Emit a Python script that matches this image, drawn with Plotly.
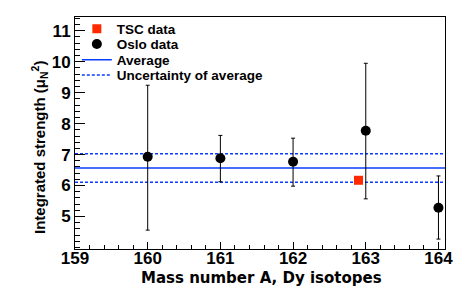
import plotly.graph_objects as go

# ---- data ----
A_oslo = [160, 161, 162, 163, 164]
S_oslo = [6.93, 6.88, 6.77, 7.77, 5.28]
S_oslo_err_plus = [2.31, 0.74, 0.76, 2.18, 1.03]
S_oslo_err_minus = [2.37, 0.76, 0.79, 2.20, 1.01]

A_tsc = [162.9]
S_tsc = [6.17]

avg_value = 6.565
avg_upper = 7.03
avg_lower = 6.11

x_range = [159, 164.09]
y_range = [3.95, 11.445]
x_ticks = [159, 160, 161, 162, 163, 164]
y_ticks = [5, 6, 7, 8, 9, 10, 11]

x_title = "Mass number A, Dy isotopes"
y_title = "Integrated strength (μ<sub>N</sub><sup>2</sup>)"

FONT = "Liberation Sans, Arial, Helvetica, sans-serif"
BLUE = "#0a3cff"
RED = "#ff2a00"

fig = go.Figure()

fig.add_trace(go.Scatter(
    x=x_range, y=[avg_value, avg_value], mode="lines",
    line=dict(color=BLUE, width=1.5), name="Average", legend="legend3"))
fig.add_trace(go.Scatter(
    x=x_range, y=[avg_upper, avg_upper], mode="lines",
    line=dict(color=BLUE, width=1.5, dash="3px,2px"),
    name="Uncertainty of average", legend="legend4"))
fig.add_trace(go.Scatter(
    x=x_range, y=[avg_lower, avg_lower], mode="lines",
    line=dict(color=BLUE, width=1.5, dash="3px,2px"),
    name="Uncertainty of average", showlegend=False, legend="legend4"))

fig.add_trace(go.Scatter(
    x=A_oslo, y=S_oslo, mode="markers",
    marker=dict(symbol="circle", size=10, color="black"),
    error_y=dict(type="data", array=S_oslo_err_plus, arrayminus=S_oslo_err_minus,
                 color="black", thickness=1, width=2),
    name="Oslo data", legend="legend2"))

fig.add_trace(go.Scatter(
    x=A_tsc, y=S_tsc, mode="markers",
    marker=dict(symbol="square", size=9, color=RED),
    name="TSC data", legend="legend"))

def leg(ypx):
    return dict(x=0.005, xanchor="left", y=(249 - ypx) / 232, yanchor="middle",
                bgcolor="rgba(0,0,0,0)", borderwidth=0, visible=True,
                font=dict(family=FONT, size=13.5, color="black", weight="bold"))

fig.update_layout(
    width=469, height=290,
    margin=dict(l=75, r=24, t=17, b=41, autoexpand=False),
    paper_bgcolor="white", plot_bgcolor="white",
    font=dict(family=FONT, color="black"),
    showlegend=True,
    legend=leg(29), legend2=leg(44.3), legend3=leg(60), legend4=leg(75.3),
    xaxis=dict(
        range=x_range, tickmode="array", tickvals=x_ticks, automargin=False,
        ticks="inside", ticklen=7, tickwidth=1, tickcolor="black",
        ticklabelstandoff=-6,
        minor=dict(dtick=0.2, ticks="inside", ticklen=4, tickwidth=1, tickcolor="black"),
        showline=True, linecolor="black", linewidth=1, mirror=True,
        showgrid=False, zeroline=False,
        tickfont=dict(family=FONT, size=17, weight="bold"),
    ),
    yaxis=dict(
        range=y_range, tickmode="array", tickvals=y_ticks, automargin=False,
        ticks="inside", ticklen=10, tickwidth=1, tickcolor="black",
        minor=dict(dtick=0.2, ticks="inside", ticklen=5, tickwidth=1, tickcolor="black"),
        showline=True, linecolor="black", linewidth=1, mirror=True,
        showgrid=False, zeroline=False,
        tickfont=dict(family=FONT, size=17, weight="bold"),
    ),
    annotations=[
        dict(text=x_title, xref="paper", yref="paper", x=0.505, y=(249 - 278) / 232,
             xanchor="center", yanchor="middle", showarrow=False,
             font=dict(family="DejaVu Sans, " + FONT, size=15, weight="bold", color="black")),
        dict(text=y_title, xref="paper", yref="paper", x=(39 - 75) / 370, y=(249 - 148) / 232,
             xanchor="center", yanchor="middle", showarrow=False, textangle=-90,
             font=dict(family=FONT, size=15, weight="bold", color="black")),
    ],
)

fig.write_html("out.html",
               config={"displayModeBar": False},
               post_script="document.body.style.margin='0';document.body.style.overflow='hidden';")
